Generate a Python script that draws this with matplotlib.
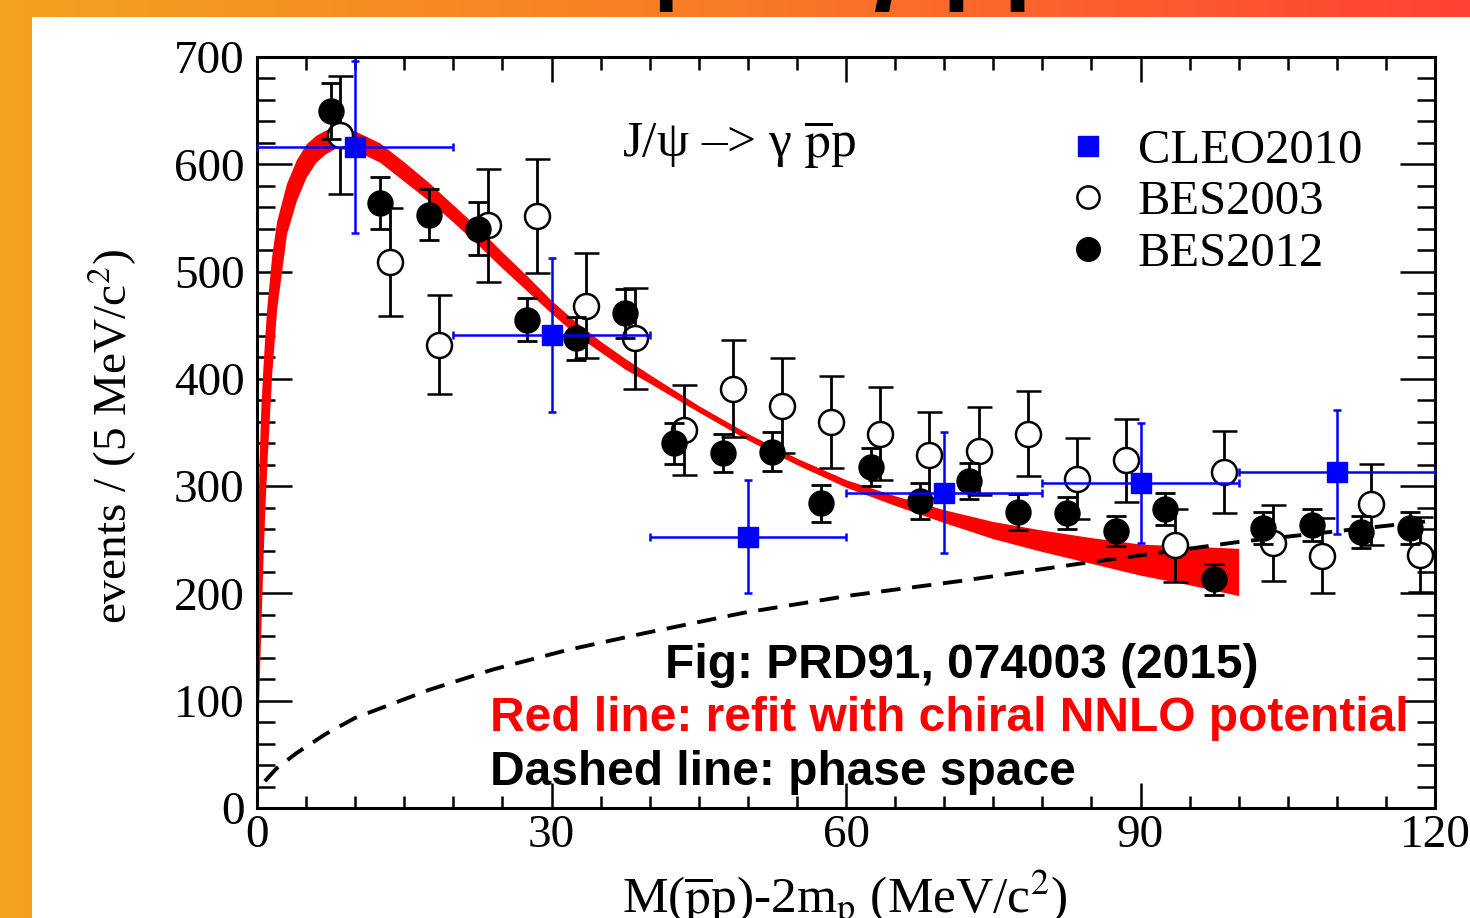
"""J/psi -> gamma p pbar near-threshold spectrum with chiral NNLO refit band."""

import matplotlib

matplotlib.use("Agg")

import matplotlib.pyplot as plt
import numpy as np
from matplotlib.lines import Line2D
from matplotlib.patches import Rectangle
from matplotlib.ticker import MultipleLocator

plt.rcParams['font.family'] = ['Liberation Serif', 'DejaVu Serif']
plt.rcParams['mathtext.fontset'] = 'stix'

# BES2012 (filled circles)
bes2012_x = [7.5, 12.5, 17.5, 22.5, 27.5, 32.5, 37.5, 42.5, 47.5, 52.5, 57.5, 62.5,
             67.5, 72.5, 77.5, 82.5, 87.5, 92.5, 97.5, 102.5, 107.5, 112.5, 117.5]
bes2012_y = [650, 564, 553, 540, 455, 438, 461, 340, 331, 332, 284, 318,
             286, 305, 276, 275, 258, 279, 213, 261, 264, 257, 261]
bes2012_err = [26, 24, 24, 25, 20, 20, 23, 19, 18, 18, 17, 18,
               17, 17, 17, 15, 14, 15, 14, 15, 15, 15, 15]

# BES2003 (open circles)
bes2003_x = [8.5, 13.5, 18.5, 23.5, 28.5, 33.5, 38.5, 43.5, 48.5, 53.5, 58.5, 63.5,
             68.5, 73.5, 78.5, 83.5, 88.5, 93.5, 98.5, 103.5, 108.5, 113.5, 118.5]
bes2003_y = [627, 509, 432, 543, 552, 468, 438, 352, 391, 375, 360, 349,
             329, 333, 349, 307, 324, 245, 313, 247, 235, 283, 236]
bes2003_err = [55, 50, 46, 53, 53, 49, 47, 42, 45, 44, 43, 43,
               40, 41, 40, 38, 39, 34, 38, 35, 35, 38, 35]

# CLEO2010 (blue squares)
cleo_x = [10, 30, 50, 70, 90, 110]
cleo_y = [616, 441, 253, 294, 303, 313]
cleo_xerr = [10, 10, 10, 10, 10, 10]
cleo_yerr = [80, 72, 53, 56, 56, 58]

# chiral NNLO refit band (upper / lower edge)
band_x = [0, 0.05, 0.1, 0.2, 0.4, 0.6, 0.8, 1.0, 1.5, 2, 3, 4, 5, 6, 7, 8,
          10, 12.5, 15, 17.5, 20, 22.5, 25, 27.5, 30, 32.5, 35, 37.5, 40,
          45, 50, 55, 60, 65, 70, 75, 80, 85, 90, 95, 100]
band_hi = [0, 190, 260, 320, 375, 410, 440, 467, 515, 547, 582, 604, 619, 627, 632, 633,
           631, 620, 602, 583, 562, 541, 518, 496, 473, 453, 435, 419, 404,
           375, 349, 326, 306, 291, 278, 267, 259, 252, 246, 244, 242]
band_lo = [0, 35, 65, 110, 170, 230, 279, 320, 405, 465, 535, 566, 588, 602, 610, 615,
           613, 602, 584, 566, 546, 525, 503, 482, 461, 441, 425, 409, 396,
           369, 343, 320, 299, 282, 266, 251, 239, 228, 217, 208, 198]

# phase space (dashed)
ps_x = [0.8, 2, 4, 7, 10, 17.5, 24, 31.5, 39.5, 49.6, 60.4, 72, 84, 100, 105, 115, 120]
ps_y = [25, 37, 51, 69, 84, 110, 129, 147, 163, 182, 198, 212, 228, 248, 253, 263, 268]

W, H = 1470, 918
fig = plt.figure(figsize=(W / 100, H / 100), dpi=100)

# slide background: orange gradient with white panel
bg = fig.add_axes([0, 0, 1, 1], zorder=-10)
t = np.linspace(0, 1, 256)
stops = np.array([[243, 162, 30], [248, 122, 38], [255, 66, 52]]) / 255
grad = np.stack([np.interp(t, [0, 0.5, 1], stops[:, i]) for i in range(3)], axis=-1)
bg.imshow(grad[np.newaxis, :, :], aspect='auto', extent=[0, 1, 0, 1])
bg.add_patch(Rectangle((32 / W, 0), 1, 1 - 17 / H, color='white', lw=0))
bg.set_xlim(0, 1)
bg.set_ylim(0, 1)
bg.axis('off')

# slide title, mostly above the top edge as in the screenshot
fig.text(805 / W, 1 + 9 / H, 'J/ψ → γ p̄p', fontsize=72, fontweight='bold',
         family=['Liberation Sans', 'DejaVu Sans'], ha='center', va='baseline')

ax = fig.add_axes([257 / W, 110 / H, 1178 / W, 751 / H])
ax.set_xlim(0, 120)
ax.set_ylim(0, 700)

ax.fill_between(band_x, band_lo, band_hi, color='#ff0000', lw=0, zorder=2)
ax.plot(ps_x, ps_y, color='black', lw=2.8, dashes=(5.0, 3.0), zorder=3)

ax.errorbar(bes2003_x, bes2003_y, yerr=bes2003_err, fmt='o', ms=18, mfc='white',
            mec='black', mew=1.8, ecolor='black', elinewidth=2, capsize=9,
            capthick=2, zorder=4)
ax.errorbar(bes2012_x, bes2012_y, yerr=bes2012_err, fmt='o', ms=18, color='black',
            ecolor='black', elinewidth=2, capsize=7, capthick=2, zorder=5)
ax.errorbar(cleo_x, cleo_y, xerr=cleo_xerr, yerr=cleo_yerr, fmt='s', ms=15,
            color='blue', ecolor='blue', elinewidth=1.8, capsize=3, capthick=1.8,
            zorder=6)

ax.set_xticks(np.arange(0, 121, 30))
ax.set_yticks(np.arange(0, 701, 100))
ax.xaxis.set_minor_locator(MultipleLocator(5))
ax.yaxis.set_minor_locator(MultipleLocator(20))
ax.tick_params(which='both', direction='in', top=True, right=True, width=1.8,
               labelsize=34)
ax.tick_params(axis='x', which='major', length=18, pad=5)
ax.tick_params(axis='x', which='minor', length=9)
ax.tick_params(axis='y', which='major', length=25, pad=9)
ax.tick_params(axis='y', which='minor', length=13)
for s in ax.spines.values():
    s.set_linewidth(2.2)

handles = [
    Line2D([], [], marker='s', color='blue', ls='none', ms=15),
    Line2D([], [], marker='o', mfc='white', mec='black', mew=1.8, ls='none', ms=16),
    Line2D([], [], marker='o', color='black', ls='none', ms=17),
]
ax.legend(handles, ['CLEO2010', 'BES2003', 'BES2012'], loc='upper left',
          bbox_to_anchor=((1065 - 257) / 1178, (808 - 129) / 751), frameon=False,
          fontsize=35, handlelength=0.95, handletextpad=0.55, labelspacing=0.15,
          borderpad=0, borderaxespad=0)

ax.text((622 - 257) / 1178, (808 - 158) / 751, 'J/ψ –> γ $\\overline{\\rm p}$p',
        transform=ax.transAxes, fontsize=37, ha='left', va='baseline')

fig.text(112 / W, 1 - 437 / H, 'events / (5 MeV/c$^2$)', rotation=90, fontsize=34,
         ha='center', va='center')
fig.text(845 / W, 1 - 913 / H, 'M($\\overline{\\rm p}$p)-2m$_{\\rm p}$ (MeV/c$^2$)',
         fontsize=37, ha='center', va='baseline')

sans = ['Liberation Sans', 'DejaVu Sans']
fig.text(665 / W, 1 - 678 / H, 'Fig: PRD91, 074003 (2015)', fontsize=34.5,
         fontweight='bold', family=sans, color='black', va='baseline')
fig.text(490 / W, 1 - 731 / H, 'Red line: refit with chiral NNLO potential',
         fontsize=34.5, fontweight='bold', family=sans, color='#ff0000', va='baseline')
fig.text(490 / W, 1 - 785 / H, 'Dashed line: phase space', fontsize=34.5,
         fontweight='bold', family=sans, color='black', va='baseline')

fig.savefig('out.png', dpi=100)
